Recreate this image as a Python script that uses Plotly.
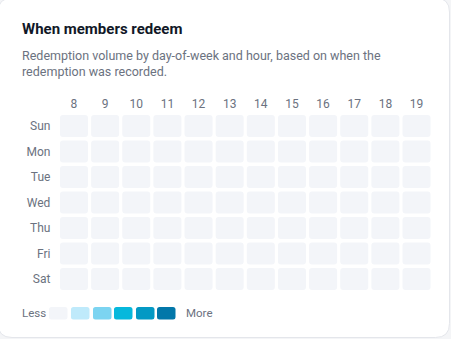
import plotly.graph_objects as go

# ---- data ----
days = ["Sun", "Mon", "Tue", "Wed", "Thu", "Fri", "Sat"]
hours = ["8", "9", "10", "11", "12", "13", "14", "15", "16", "17", "18", "19"]
# redemption counts per day (rows) and hour (columns) -- none recorded
counts = [
    [0, 0, 0, 0, 0, 0, 0, 0, 0, 0, 0, 0],
    [0, 0, 0, 0, 0, 0, 0, 0, 0, 0, 0, 0],
    [0, 0, 0, 0, 0, 0, 0, 0, 0, 0, 0, 0],
    [0, 0, 0, 0, 0, 0, 0, 0, 0, 0, 0, 0],
    [0, 0, 0, 0, 0, 0, 0, 0, 0, 0, 0, 0],
    [0, 0, 0, 0, 0, 0, 0, 0, 0, 0, 0, 0],
    [0, 0, 0, 0, 0, 0, 0, 0, 0, 0, 0, 0],
]
level_colors = ["#f3f5f9", "#bfeafb", "#7cd4f1", "#06b8dc", "#0399c4", "#0277a9"]
legend_low, legend_high = "Less", "More"
title = "When members redeem"
subtitle = "Redemption volume by day-of-week and hour, based on when the<br>redemption was recorded."

W, H = 451, 339
FONT = "Roboto, Lato, sans-serif"

vmax = max(max(r) for r in counts)


def level(v):
    if vmax <= 0 or v <= 0:
        return 0
    return min(5, 1 + int((v / vmax) * 4.999))


def px(x):
    return x / W


def py(y):
    return 1 - y / H


def rrect(x0, y0, x1, y1, r):
    X = lambda v: f"{px(v):.5f}"
    Y = lambda v: f"{py(v):.5f}"
    return (f"M {X(x0 + r)},{Y(y0)} L {X(x1 - r)},{Y(y0)} Q {X(x1)},{Y(y0)} {X(x1)},{Y(y0 + r)} "
            f"L {X(x1)},{Y(y1 - r)} Q {X(x1)},{Y(y1)} {X(x1 - r)},{Y(y1)} "
            f"L {X(x0 + r)},{Y(y1)} Q {X(x0)},{Y(y1)} {X(x0)},{Y(y1 - r)} "
            f"L {X(x0)},{Y(y0 + r)} Q {X(x0)},{Y(y0)} {X(x0 + r)},{Y(y0)} Z")


fig = go.Figure()
for d, day in enumerate(days):
    fig.add_trace(go.Bar(
        x=hours,
        y=[0.86] * len(hours),
        base=[d - 0.43] * len(hours),
        width=0.9,
        marker=dict(color=[level_colors[level(v)] for v in counts[d]],
                    cornerradius=3, line=dict(width=0)),
        customdata=counts[d],
        name=day,
        hovertemplate=day + " %{x}:00 — %{customdata}<extra></extra>",
        showlegend=False,
    ))

shapes = [dict(type="path", xref="paper", yref="paper", path=rrect(-2, -2, 449.5, 337.5, 14),
               fillcolor="white", line=dict(color="#e4e6eb", width=1), layer="below")]
# legend swatches
sw_x = [49, 71, 93, 114, 136, 157]
for i, c in enumerate(level_colors):
    shapes.append(dict(type="path", xref="paper", yref="paper",
                       path=rrect(sw_x[i], 307, sw_x[i] + 18.5, 319.5, 2.5),
                       fillcolor=c, line=dict(width=0), layer="above"))

annotations = [
    dict(text=f"<b>{title}</b>", x=px(19.5), y=py(29), xref="paper", yref="paper",
         xanchor="left", yanchor="middle", showarrow=False,
         font=dict(family=FONT, size=15, color="#111827")),
    dict(text=subtitle, x=px(19.5), y=py(63), xref="paper", yref="paper",
         xanchor="left", yanchor="middle", align="left", showarrow=False,
         font=dict(family=FONT, size=12.5, color="#6b7280")),
    dict(text=legend_low, x=px(19.5), y=py(313), xref="paper", yref="paper",
         xanchor="left", yanchor="middle", showarrow=False,
         font=dict(family=FONT, size=11.5, color="#6b7280")),
    dict(text=legend_high, x=px(183.5), y=py(313), xref="paper", yref="paper",
         xanchor="left", yanchor="middle", showarrow=False,
         font=dict(family=FONT, size=11.5, color="#6b7280")),
]

fig.update_layout(
    width=W, height=H,
    margin=dict(l=0, r=0, t=0, b=0),
    paper_bgcolor="#f4f5f7",
    plot_bgcolor="rgba(0,0,0,0)",
    barmode="overlay",
    shapes=shapes,
    annotations=annotations,
    xaxis=dict(domain=[px(58.4), px(432.1)], side="top", type="category",
               range=[-0.5, 11.5], showgrid=False, zeroline=False, showline=False,
               ticks="", ticklabelstandoff=2,
               tickfont=dict(family=FONT, size=12, color="#6b7280"),
               fixedrange=True),
    yaxis=dict(domain=[py(291.75), py(113.25)], range=[6.5, -0.5],
               tickvals=list(range(len(days))), ticktext=days,
               showgrid=False, zeroline=False, showline=False, ticks="",
               ticklabelstandoff=7,
               tickfont=dict(family=FONT, size=12, color="#6b7280"),
               fixedrange=True),
    font=dict(family=FONT),
)

fig.write_html("out.html", config={"displayModeBar": False})
